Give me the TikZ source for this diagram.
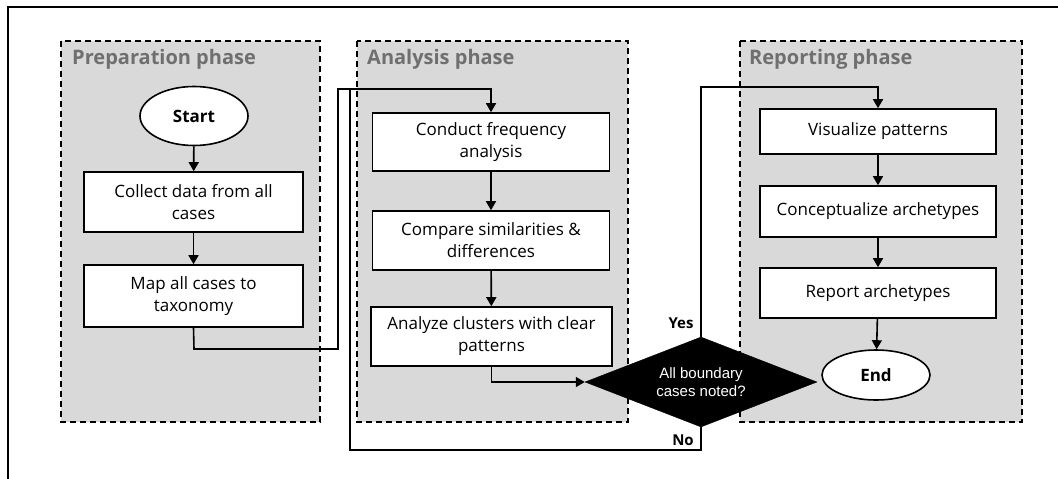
\documentclass[tikz,border=0pt]{standalone}
\usepackage{fontspec}
\setmainfont{Open Sans}
\newfontfamily\arialfont{Liberation Sans}
\usetikzlibrary{shapes.geometric,arrows.meta}
\definecolor{panelgray}{HTML}{D9D9D9}
\definecolor{titlegray}{HTML}{6F6F6F}
\begin{document}
\begin{tikzpicture}[x=1pt,y=-1pt,
  panel/.style={draw=black,fill=panelgray,dashed,dash pattern=on 6pt off 4pt,line width=1.5pt},
  ptitle/.style={anchor=west,text=titlegray,font=\fontsize{20}{23}\selectfont\bfseries,inner sep=0pt},
  procbox/.style={draw=black,fill=white,line width=1.6pt,inner sep=2pt,align=center,font=\fontsize{17}{22}\selectfont},
  term/.style={ellipse,draw=black,fill=white,line width=1.6pt,inner sep=0pt,font=\fontsize{17}{20}\selectfont\bfseries},
  conn/.style={line width=1.6pt},
  arr/.style={conn,-{Triangle[width=10pt,length=9pt]}},
  lbl/.style={font=\fontsize{15}{17}\selectfont\bfseries,inner sep=0pt}
]
\useasboundingbox (0,0) rectangle (1058,479);
\draw[line width=2pt] (8,479) -- (8,7) -- (1058,7);

% panels
\draw[panel] (61,41) rectangle (320,422);
\draw[panel] (357,41) rectangle (628,422);
\draw[panel] (740,41) rectangle (1022,422);
\node[ptitle] (t1) at (72,59) {Preparation phase};
\node[ptitle] (t2) at (367,59) {Analysis phase};
\node[ptitle] (t3) at (749,59) {Reporting phase};

% preparation
\node[term,minimum width=108pt,minimum height=59pt] (start) at (194,116) {Start};
\node[procbox,minimum width=219pt,minimum height=60pt] (collect) at (193.5,202) {Collect data from all\\cases};
\node[procbox,minimum width=219pt,minimum height=62pt] (map) at (193.5,296) {Map all cases to\\taxonomy};

% analysis
\node[procbox,minimum width=237pt,minimum height=58pt] (conduct) at (491,142) {Conduct frequency\\analysis};
\node[procbox,minimum width=237pt,minimum height=59pt] (compare) at (491,240.5) {Compare similarities \&\\differences};
\node[procbox,minimum width=241pt,minimum height=59pt] (analyze) at (491.5,336.5) {Analyze clusters with clear\\patterns};

% decision
\node[diamond,draw=black,fill=black,inner sep=0pt,shape aspect=2.58,minimum width=232pt,minimum height=90pt,
      text=white,align=center,font=\arialfont\fontsize{15}{18}\selectfont] (dec) at (701,382) {All boundary\\cases noted?};

% reporting
\node[procbox,minimum width=236pt,minimum height=45pt] (vis) at (878,131.5) {Visualize patterns};
\node[procbox,minimum width=236pt,minimum height=51pt] (concept) at (878,211.5) {Conceptualize archetypes};
\node[procbox,minimum width=236pt,minimum height=50pt] (report) at (878,293) {Report archetypes};
\node[term,minimum width=108pt,minimum height=50pt] (end) at (876,375) {End};

% labels
\node[lbl] (yes) at (681,323) {Yes};
\node[lbl] (no) at (683,440) {No};

% coordinates for routing
\coordinate (m1) at (194,349);
\coordinate (m2) at (338,349);
\coordinate (m3) at (338,89);
\coordinate (m4) at (491,89);
\coordinate (y1) at (701,87);
\coordinate (y2) at (878,87);
\coordinate (n1) at (701,450);
\coordinate (n2) at (350,450);
\coordinate (n3) at (350,89);

% connectors
\draw[arr] (start) -- (collect);
\draw[arr] (collect) -- (map);
\draw[arr] (map.south) -- (m1) -- (m2) -- (m3) -- (m4) -- (conduct.north);
\draw[arr] (conduct) -- (compare);
\draw[arr] (compare) -- (analyze);
\draw[arr] (analyze.south) |- (dec.west);
\draw[arr] (dec.north) -- (y1) -- (y2) -- (vis.north);
\draw[conn] (dec.south) -- (n1) -- (n2) -- (n3);
\draw[arr] (vis) -- (concept);
\draw[arr] (concept) -- (report);
\draw[arr] (report) -- (end);
\end{tikzpicture}
\end{document}
